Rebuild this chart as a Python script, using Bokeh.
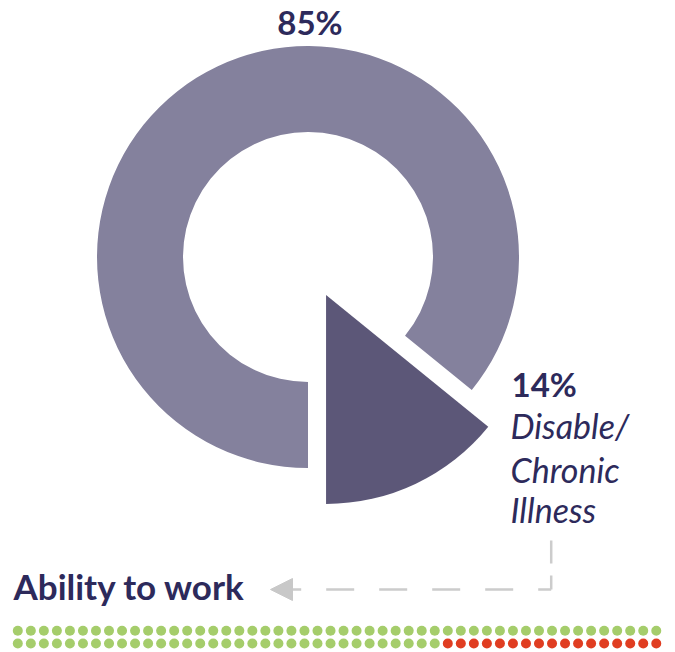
import math
from bokeh.plotting import figure
from bokeh.models import Range1d, ColumnDataSource, Arrow, NormalHead
from bokeh.core.properties import value
from bokeh.embed import file_html
from bokeh.resources import INLINE

# ---- data ----
categories = ["Other", "Disable/Chronic Illness"]
shares = [85, 14]
share_labels = ["85%", "14%"]
label_lines = ["Disable/", "Chronic", "Illness"]
footer_label = "Ability to work"
dot_counts = [83, 17]
dot_colors = ["#a5cd6b", "#e03d21"]
dots_per_row = 50

# ---- layout ----
W, H = 675, 652
def X(px):
    return px
def Y(py):
    return H - py

FONT = "Lato"
TEXT_COLOR = "#2d2a5b"
DONUT_COLOR = "#84819d"
WEDGE_COLOR = "#5c5778"

p = figure(width=W, height=H, x_range=Range1d(0, W), y_range=Range1d(0, H),
           output_backend="svg", toolbar_location=None,
           x_axis_type=None, y_axis_type=None, min_border=0)
p.outline_line_color = None
p.background_fill_color = "white"
p.border_fill_color = "white"

total = sum(shares)
base = -math.pi / 2
cx, cy = X(307.5), Y(256.5)

# donut (first share), clockwise from the bottom
donut_src = ColumnDataSource(dict(
    x=[cx], y=[cy],
    start=[base - 2 * math.pi * shares[0] / total],
    end=[base],
    cat=[categories[0]],
))
p.annular_wedge(x="x", y="y", inner_radius=125, outer_radius=211,
                start_angle="start", end_angle="end", direction="anticlock",
                fill_color=DONUT_COLOR, line_color=None, source=donut_src)

# exploded wedge (second share), anticlockwise from the bottom
mid = base + math.pi * shares[1] / total
off = 42
wedge_src = ColumnDataSource(dict(
    x=[cx + off * math.cos(mid)], y=[cy + off * math.sin(mid)],
    start=[base], end=[base + 2 * math.pi * shares[1] / total],
    cat=[categories[1]],
))
p.wedge(x="x", y="y", radius=209, start_angle="start", end_angle="end",
        direction="anticlock", fill_color=WEDGE_COLOR, line_color=None,
        source=wedge_src)

# labels
p.text(x=[X(309.5)], y=[Y(21.3)], text=[share_labels[0]], text_font=value(FONT),
       text_font_style="bold", text_font_size="33px", text_color=TEXT_COLOR,
       text_align="center", text_baseline="alphabetic")
p.text(x=[X(511)], y=[Y(383)], text=[share_labels[1]], text_font=value(FONT),
       text_font_style="bold", text_font_size="33px", text_color=TEXT_COLOR,
       text_align="left", text_baseline="alphabetic")
line_base = [425, 469, 509]
p.text(x=[X(510)] * 3, y=[Y(b) for b in line_base], text=label_lines,
       text_font=value(FONT), text_font_style="italic", text_font_size="34px",
       text_color=TEXT_COLOR, text_align="left", text_baseline="alphabetic")
p.text(x=[X(13)], y=[Y(585.3)], text=[footer_label], text_font=value(FONT),
       text_font_style="bold", text_font_size="35px", text_color=TEXT_COLOR,
       text_align="left", text_baseline="alphabetic")

# dashed connector
LINE_C = "#cccccc"
p.line(x=[X(550.7), X(550.7)], y=[Y(540), Y(589)], line_color=LINE_C,
       line_width=2.5, line_dash="23 12")
p.line(x=[X(550.7), X(291.7)], y=[Y(589), Y(589)], line_color=LINE_C,
       line_width=2.5, line_dash="28 25", line_dash_offset=15)
p.add_layout(Arrow(end=NormalHead(size=22, fill_color="#c8c8c8", line_color="#c8c8c8",
                                  line_width=1),
                   x_start=X(300), y_start=Y(589), x_end=X(270), y_end=Y(589),
                   line_alpha=0))

# dots
xs, ys, cs = [], [], []
i = 0
row_y = [Y(630.3), Y(643)]
for count, col in zip(dot_counts, dot_colors):
    for _ in range(count):
        r, c = divmod(i, dots_per_row)
        xs.append(X(17.3) + 13.03 * c)
        ys.append(row_y[r])
        cs.append(col)
        i += 1
p.scatter(x=xs, y=ys, size=10, marker="circle", fill_color=cs, line_color=None)

open("out.html", "w").write(file_html(p, INLINE))
